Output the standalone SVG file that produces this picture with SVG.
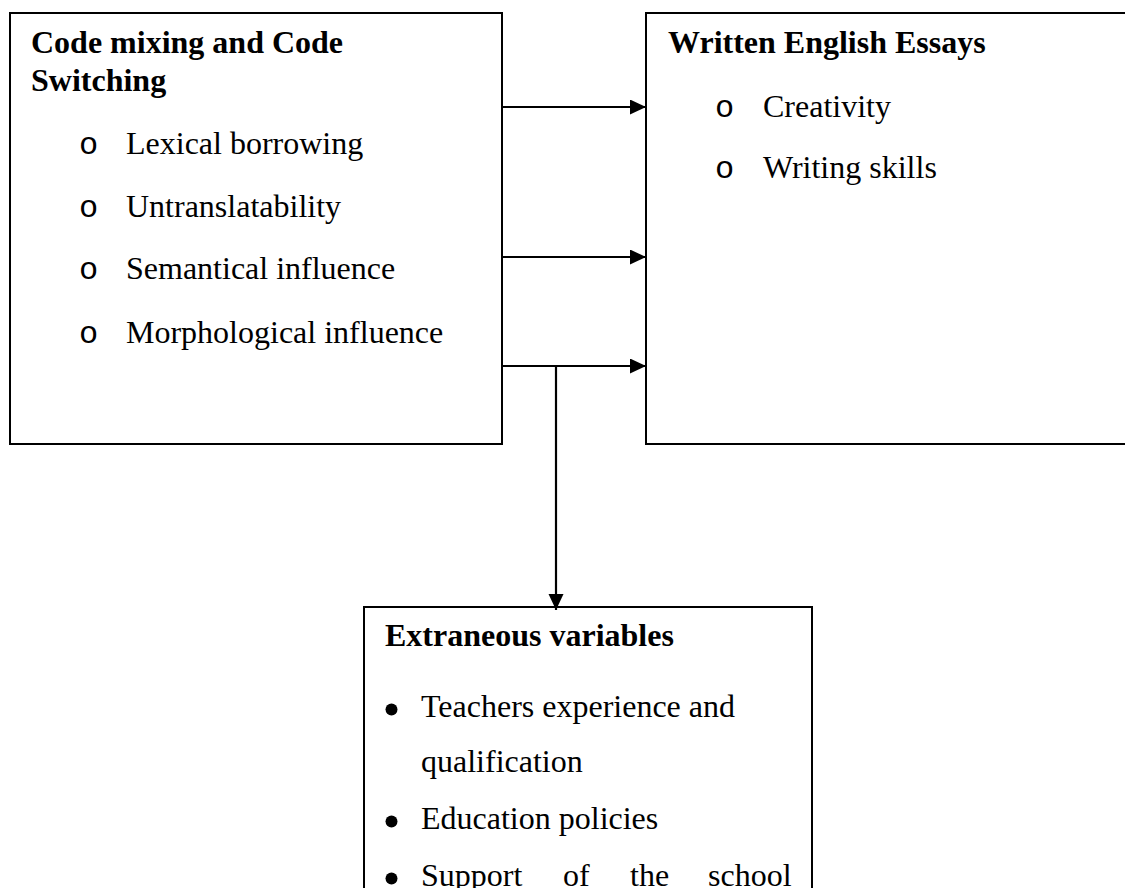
<svg xmlns="http://www.w3.org/2000/svg" width="1125" height="888" viewBox="0 0 1125 888">
<style>
.box{fill:#fff;stroke:#000;stroke-width:2}
.t{font-family:"Liberation Serif","Times New Roman",serif;font-size:32px;fill:#000}
.b{font-weight:bold}
.o{font-family:"Liberation Mono","Courier New",monospace;font-size:32px;fill:#000}
.c{stroke:#000;stroke-width:2.2;fill:none}
</style>
<defs>
<marker id="ah" markerUnits="userSpaceOnUse" markerWidth="17" markerHeight="16" refX="16" refY="7.5" orient="auto">
<path d="M0,0 L16,7.5 L0,15 z" fill="#000"/>
</marker>
</defs>
<rect width="1125" height="888" fill="#fff"/>
<g id="node-code">
<rect class="box" x="10" y="13" width="492" height="431"/>
<text class="t b" x="31" y="53">Code mixing and Code</text>
<text class="t b" x="31" y="91">Switching</text>
<text class="o" x="79" y="154">o</text><text class="t" x="126" y="154">Lexical borrowing</text>
<text class="o" x="79" y="217">o</text><text class="t" x="126" y="217">Untranslatability</text>
<text class="o" x="79" y="279">o</text><text class="t" x="126" y="279">Semantical influence</text>
<text class="o" x="79" y="343">o</text><text class="t" x="126" y="343">Morphological influence</text>
</g>
<g id="node-essays">
<rect class="box" x="646" y="13" width="500" height="431"/>
<text class="t b" x="668" y="53">Written English Essays</text>
<text class="o" x="715" y="117">o</text><text class="t" x="763" y="117">Creativity</text>
<text class="o" x="715" y="178">o</text><text class="t" x="763" y="178">Writing skills</text>
</g>
<g id="node-extraneous">
<rect class="box" x="364" y="607" width="448" height="300"/>
<text class="t b" x="385" y="646">Extraneous variables</text>
<circle cx="391.5" cy="709.5" r="6"/>
<text class="t" x="421" y="717">Teachers experience and</text>
<text class="t" x="421" y="772">qualification</text>
<circle cx="391.5" cy="821.5" r="6"/>
<text class="t" x="421" y="829">Education policies</text>
<circle cx="391.5" cy="878.5" r="6"/>
<text class="t" y="886"><tspan x="421">Support</tspan><tspan x="563">of</tspan><tspan x="630">the</tspan><tspan x="708">school</tspan></text>
</g>
<g id="connectors">
<line class="c" x1="502" y1="107" x2="646" y2="107" marker-end="url(#ah)"/>
<line class="c" x1="502" y1="257" x2="646" y2="257" marker-end="url(#ah)"/>
<line class="c" x1="502" y1="366" x2="646" y2="366" marker-end="url(#ah)"/>
<line class="c" x1="556" y1="366" x2="556" y2="610" marker-end="url(#ah)"/>
</g>
</svg>
